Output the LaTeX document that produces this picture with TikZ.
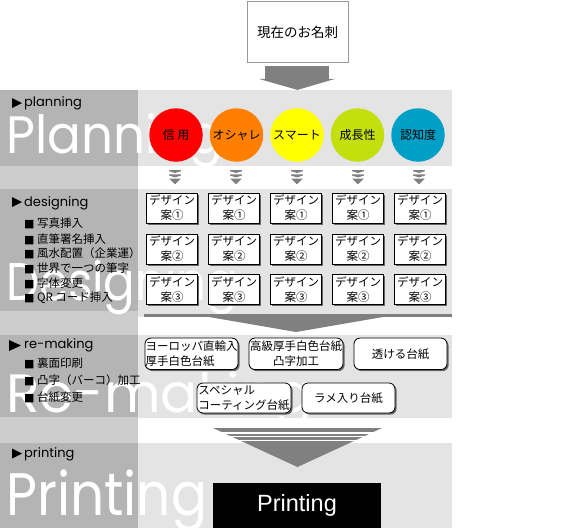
\documentclass[tikz,border=0pt]{standalone}
\usepackage{graphicx}
\usepackage{fontspec}
\setmainfont{Liberation Sans}
\newfontfamily\jp{Noto Sans CJK JP}
\newfontfamily\geo{Poppins}
\newfontfamily\dv{DejaVu Sans}
\usetikzlibrary{shadows,calc}
\definecolor{banddark}{HTML}{B4B4B4}
\definecolor{bandlight}{HTML}{E4E4E4}
\definecolor{stripgray}{HTML}{CCCCCC}
\definecolor{arrowgray}{HTML}{808080}
\definecolor{cred}{HTML}{FF0000}
\definecolor{corange}{HTML}{FF8000}
\definecolor{cyellow}{HTML}{FFFF00}
\definecolor{cgreen}{HTML}{C3DF0E}
\definecolor{cblue}{HTML}{00A0C6}
\newcommand{\sq}{{\dv\fontsize{11}{11}\selectfont ■}\hspace{2.5pt}}
\tikzset{
  wm/.style={text=white, font=\geo, inner sep=0pt, anchor=base west},
  lbl/.style={font=\geo\fontsize{13}{13}\selectfont, inner sep=0pt, anchor=base west},
  jplist/.style={font=\jp\fontsize{11.5}{13}\selectfont, inner sep=0pt, anchor=base west},
  circ/.style={circle, minimum size=53.5pt, inner sep=0pt, font=\jp\fontsize{12}{13}\selectfont},
  shd/.style={drop shadow={shadow xshift=1.6pt, shadow yshift=-1.6pt, fill=black!60, opacity=1}},
  dbox/.style={shd, draw=black, line width=0.8pt, fill=white, minimum width=51pt, minimum height=30pt, inner sep=0pt, align=center, font=\jp\fontsize{11.5}{15}\selectfont},
  rbox/.style={shd, draw=black, line width=0.8pt, fill=white, rounded corners=6pt, minimum width=93pt, inner sep=0pt, font=\jp\fontsize{11.5}{15}\selectfont},
  topbox/.style={draw=black!40, line width=0.8pt, fill=white, minimum width=101pt, minimum height=61pt, inner sep=0pt, font=\jp\fontsize{13.5}{15}\selectfont},
  arr/.style={fill=arrowgray},
  tri/.style={fill=black},
}
\begin{document}
\begin{tikzpicture}[x=1pt,y=-1pt]
\useasboundingbox (0,0) rectangle (571,528);
% ---------- bands ----------
\fill[banddark] (0,90) rectangle (138,166);
\fill[bandlight] (138,90) rectangle (452,166);
\fill[stripgray] (0,166) rectangle (138,189);
\fill[banddark] (0,189) rectangle (138,311);
\fill[bandlight] (138,189) rectangle (452,317);
\fill[stripgray] (0,311) rectangle (138,335);
\fill[banddark] (0,335) rectangle (138,417);
\fill[bandlight] (138,335) rectangle (452,418);
\fill[stripgray] (0,417) rectangle (138,443);
\fill[banddark] (0,443) rectangle (138,528);
\fill[bandlight] (138,443) rectangle (452,528);
% ---------- watermarks ----------
\node[wm] (wplan) at (6,153.3) {\scalebox{0.95}[1]{\fontsize{52.6}{53}\selectfont Planning}};
\node[wm] (wdes) at (6,300) {\scalebox{0.88}[1]{\fontsize{53}{53}\selectfont Designing}};
\node[wm] (wrem) at (6,412) {\scalebox{1.02}[1]{\fontsize{54}{54}\selectfont Re-making}};
\node[wm] (wprn) at (6,515) {\scalebox{0.89}[1]{\fontsize{60}{60}\selectfont Printing}};
% ---------- section labels ----------
\fill[tri] (12,98) -- (22,103) -- (12,108) -- cycle;
\node[lbl] (lplan) at (24,106.5) {planning};
\fill[tri] (12,197) -- (22,202) -- (12,207) -- cycle;
\node[lbl] (ldes) at (24,206) {designing};
\fill[tri] (9,340) -- (21,345.5) -- (9,351) -- cycle;
\node[lbl] (lrem) at (24,348) {re-making};
\fill[tri] (12,448.5) -- (22,453.5) -- (12,458.5) -- cycle;
\node[lbl] (lprn) at (24,457.5) {printing};
% ---------- lists ----------
\node[jplist] (dl1) at (24,227.8) {\sq 写真挿入};
\node[jplist] (dl2) at (24,243.3) {\sq 直筆署名挿入};
\node[jplist] (dl3) at (24,257.3) {\sq 風水配置（企業運）};
\node[jplist] (dl4) at (24,272.0) {\sq 世界で一つの筆字};
\node[jplist] (dl5) at (24,287.0) {\sq 字体変更};
\node[jplist] (dl6) at (24,301.5) {\sq QR コード挿入};
\node[jplist] (rl1) at (24,367.4) {\sq 裏面印刷};
\node[jplist] (rl2) at (24,384.4) {\sq 凸字（バーコ）加工};
\node[jplist] (rl3) at (24,401.4) {\sq 台紙変更};
% ---------- top box and arrow ----------
\node[topbox] (cur) at (297.5,32) {現在のお名刺};
\fill[arr] ($(cur.south)+(-32.5,3)$) rectangle ($(cur.south)+(31.5,16)$);
\fill[arr] ($(cur.south)+(-38.5,16)$) -- ($(cur.south)+(37.5,16)$) -- ($(cur.south)+(0,27)$) -- cycle;
% ---------- circles ----------
\node[circ, fill=cred] (p1) at (176,135) {信 用};
\node[circ, fill=corange] (p2) at (236.5,135) {オシャレ};
\node[circ, fill=cyellow] (p3) at (297,135) {スマート};
\node[circ, fill=cgreen] (p4) at (357.5,135) {成長性};
\node[circ, fill=cblue] (p5) at (418,135) {認知度};
% ---------- chevrons ----------
\foreach \cx in {175,236,297,358,419}{
  \fill[arr] ({\cx-5.8},170) -- ({\cx+5.8},170) -- ({\cx+5.8},171.2) -- (\cx,173) -- ({\cx-5.8},171.2) -- cycle;
  \fill[arr] ({\cx-5.8},174.4) -- ({\cx+5.8},174.4) -- ({\cx+5.8},175.6) -- (\cx,177.4) -- ({\cx-5.8},175.6) -- cycle;
  \fill[arr] ({\cx-5.8},178.6) -- ({\cx+5.8},178.6) -- (\cx,184.4) -- cycle;
}
% ---------- design boxes ----------
\foreach \i in {1,...,5}{
  \node[dbox] (d\i a) at ({172+62*(\i-1)},208) {デザイン\\案①};
  \node[dbox] (d\i b) at ({172+62*(\i-1)},249) {デザイン\\案②};
  \node[dbox] (d\i c) at ({172+62*(\i-1)},289.5) {デザイン\\案③};
}
% ---------- arrow to re-making ----------
\fill[arr] (144,313.6) rectangle (452,317);
\fill[arr] (209,317) -- (383,317) -- (296,332) -- cycle;
% ---------- re-making boxes ----------
\node[rbox, minimum height=31.5pt, align=left] (ra) at (191.5,353.8) {ヨーロッパ直輸入\\厚手白色台紙};
\node[rbox, minimum height=31.5pt, minimum width=94pt, align=center] (rb) at (296,353.8) {高級厚手白色台紙\\凸字加工};
\node[rbox, minimum height=31.5pt, align=center] (rc) at (400.5,353.8) {透ける台紙};
\node[rbox, minimum height=30pt, minimum width=94pt, align=left] (rd) at (244,398) {スペシャル\\コーティング台紙};
\node[rbox, minimum height=30pt, align=center] (re) at (348.5,398) {ラメ入り台紙};
% ---------- arrow to printing ----------
\fill[arr] (213,428) -- (382,428) -- (297.5,467) -- cycle;
\draw[white, line width=1.3pt] (205,432.9) -- (390,432.9);
\draw[white, line width=1.1pt] (205,436.6) -- (390,436.6);
\draw[white, line width=0.9pt] (205,440.0) -- (390,440.0);
% ---------- printing box ----------
\node[fill=black, text=white, minimum width=168pt, minimum height=45pt, inner sep=0pt, font=\fontsize{23.5}{24}\selectfont] (prn) at (297,505.5) {Printing};
\end{tikzpicture}
\end{document}
